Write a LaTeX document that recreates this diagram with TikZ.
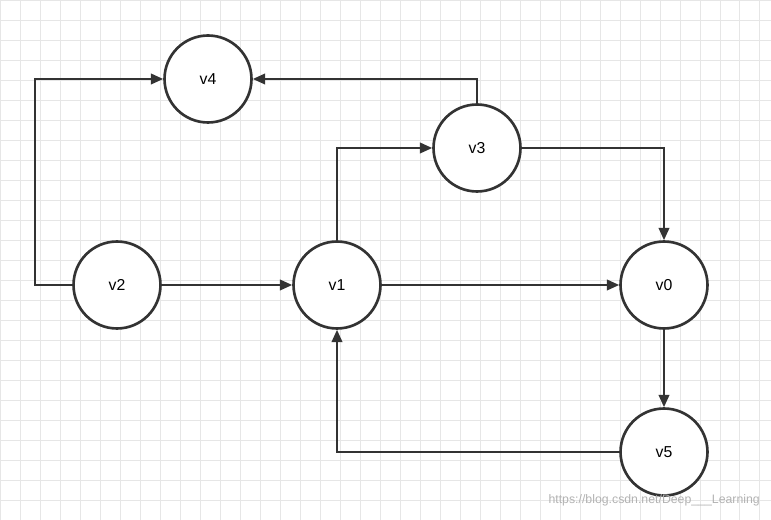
\documentclass[tikz,border=0pt]{standalone}
\usepackage{fontspec}
\setmainfont{Liberation Sans}
\usetikzlibrary{arrows.meta}
\definecolor{edge}{HTML}{333333}
\definecolor{gridc}{HTML}{E6E6E6}
\begin{document}
\begin{tikzpicture}[x=0.02cm, y=-0.02cm, >={Triangle[length=7pt,width=6pt]},
	vertex/.style={circle, draw=edge, line width=1.5pt, fill=white, minimum size=1.74cm, inner sep=0pt, font=\small},
	link/.style={->, draw=edge, line width=1.2pt}]
\useasboundingbox (0,0) rectangle (771,520);
\draw[gridc, step=0.4cm] (0,0) grid (771,520);

\node[vertex] (v4) at (208,79) {v4};
\node[vertex] (v3) at (477,148) {v3};
\node[vertex] (v2) at (117,285) {v2};
\node[vertex] (v1) at (337,285) {v1};
\node[vertex] (v0) at (664,285) {v0};
\node[vertex] (v5) at (664,452) {v5};

\draw[link] (v2.west) -- ++(-37,0) |- (v4.west);
\draw[link] (v3.north) |- (v4.east);
\draw[link] (v1.north) |- (v3.west);
\draw[link] (v3.east) -| (v0.north);
\draw[link] (v2) -- (v1);
\draw[link] (v1) -- (v0);
\draw[link] (v0) -- (v5);
\draw[link] (v5.west) -| (v1.south);

\node[text=gray!60, font=\scriptsize, anchor=east] (mark) at (766,500) {https://blog.csdn.net/Deep\_\_\_Learning};
\end{tikzpicture}
\end{document}
